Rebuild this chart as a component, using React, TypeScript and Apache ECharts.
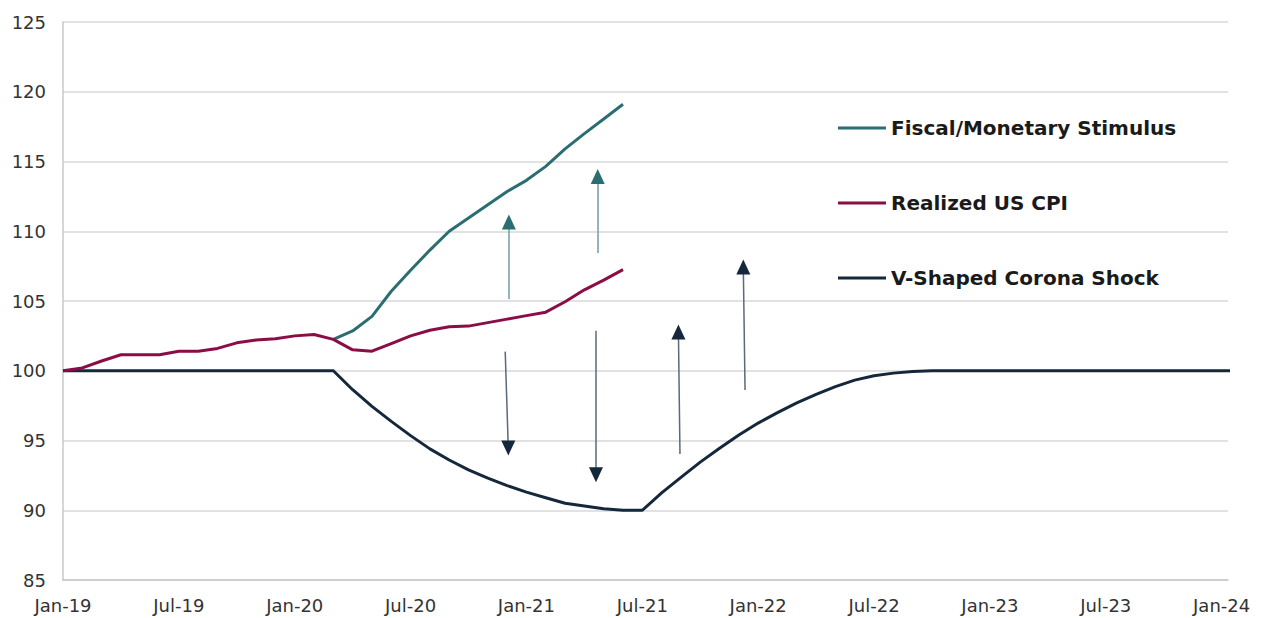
import React, { useEffect, useRef } from "react";
import * as echarts from "echarts";

// X tick labels (every 6 months, index 0 = Jan-19)
const xTickLabels = ["Jan-19", "Jul-19", "Jan-20", "Jul-20", "Jan-21", "Jul-21", "Jan-22", "Jul-22", "Jan-23", "Jul-23", "Jan-24"];

const seriesNames = ["Fiscal/Monetary Stimulus", "Realized US CPI", "V-Shaped Corona Shock"];

// Realized US CPI, monthly from Jan-19 (index 0) to Jun-21 (index 29)
const cpiValues = [
  100, 100.2, 100.7, 101.15, 101.15, 101.15, 101.4, 101.4, 101.6, 102.0,
  102.2, 102.3, 102.5, 102.6, 102.25, 101.5, 101.4, 101.95, 102.5, 102.9,
  103.15, 103.2, 103.45, 103.7, 103.95, 104.2, 104.95, 105.8, 106.5, 107.25,
];

// Fiscal/Monetary Stimulus, from Mar-20 (index 14) to Jun-21 (index 29)
const stimulusStart = 14;
const stimulusValues = [
  102.25, 102.85, 103.9, 105.7, 107.2, 108.65, 110.0, 110.95, 111.9, 112.85,
  113.65, 114.65, 115.9, 117.0, 118.05, 119.1,
];

// V-Shaped Corona Shock, monthly from Jan-19 (index 0) to Feb-24 (index 61)
const shockValues = [
  100, 100, 100, 100, 100, 100, 100, 100, 100, 100,
  100, 100, 100, 100, 100, 98.64, 97.45, 96.37, 95.35, 94.4,
  93.6, 92.9, 92.3, 91.77, 91.3, 90.9, 90.5, 90.3, 90.1, 90.0,
  90.0, 91.24, 92.36, 93.45, 94.45, 95.4, 96.25, 97.0, 97.7, 98.3,
  98.86, 99.33, 99.64, 99.83, 99.95, 100, 100, 100, 100, 100,
  100, 100, 100, 100, 100, 100, 100, 100, 100, 100,
  100, 100,
];

// Annotation arrows: [monthFrom, valueFrom, monthTip, valueTip, kind]
const arrows: [number, number, number, number, "teal" | "dark"][] = [
  [23.09, 105.14, 23.09, 111.17, "teal"],
  [27.69, 108.44, 27.69, 114.43, "teal"],
  [22.9, 101.37, 23.06, 93.96, "dark"],
  [27.6, 102.87, 27.6, 92.05, "dark"],
  [31.95, 94.03, 31.87, 103.28, "dark"],
  [35.32, 98.62, 35.23, 107.94, "dark"],
];

const xMax = 60.33;

const COLORS = {
  teal: "#2b6e72",
  cpi: "#8a0d45",
  dark: "#15283b",
  tealShaft: "#6e9fa2",
  darkShaft: "#5b6a79",
};

const AXIS_FONT = "'DejaVu Sans', 'Noto Sans', sans-serif";
const LEGEND_FONT = "'DejaVu Sans', 'Noto Sans', sans-serif";

export default function App() {
  const ref = useRef<HTMLDivElement>(null);

  useEffect(() => {
    document.body.style.margin = "0";
    if (!ref.current) return;
    const chart = echarts.init(ref.current, undefined, { renderer: "svg" });

    const headHalf = 0.5; // half arrow-head height in value units
    const markLineData = arrows.map(([x1, y1, x2, y2, kind]) => {
      const dir = y2 > y1 ? 1 : -1;
      return [
        {
          coord: [x1, y1],
          lineStyle: { color: kind === "teal" ? COLORS.tealShaft : COLORS.darkShaft, width: 1.5, type: "solid" },
        },
        { coord: [x2, y2 - dir * headHalf] },
      ];
    });
    const markPointData = arrows.map(([x1, y1, x2, y2, kind]) => {
      const dir = y2 > y1 ? 1 : -1;
      return {
        coord: [x2, y2 - dir * headHalf],
        symbol: "triangle",
        symbolSize: [14, 15],
        symbolRotate: dir > 0 ? 0 : 180,
        itemStyle: { color: kind === "teal" ? COLORS.teal : COLORS.dark },
        label: { show: false },
      };
    });

    const option: any = {
      animation: false,
      backgroundColor: "#ffffff",
      grid: { left: 63, right: 43, top: 22, bottom: 38, containLabel: false },
      legend: {
        show: true,
        orient: "vertical",
        left: 833,
        top: 113,
        icon: "rect",
        itemWidth: 48,
        itemHeight: 3,
        itemGap: 55,
        selectedMode: false,
        data: seriesNames,
        textStyle: {
          fontFamily: LEGEND_FONT,
          fontWeight: "bold",
          fontSize: 20,
          lineHeight: 20,
          color: "#1a1a1a",
        },
      },
      xAxis: {
        type: "value",
        min: 0,
        max: xMax,
        interval: 6,
        axisLine: { show: true, lineStyle: { color: "#c8c8c8", width: 1.5 } },
        axisTick: { show: false },
        splitLine: { show: false },
        axisLabel: {
          fontFamily: AXIS_FONT,
          fontSize: 18,
          color: "#333333",
          margin: 16,
          showMaxLabel: false,
          formatter: (v: number) => {
            const i = v / 6;
            if (Math.abs(i - Math.round(i)) > 1e-6) return "";
            return xTickLabels[Math.round(i)] ?? "";
          },
        },
      },
      yAxis: {
        type: "value",
        min: 85,
        max: 125,
        interval: 5,
        axisLine: { show: true, lineStyle: { color: "#c8c8c8", width: 1.5 } },
        axisTick: { show: false },
        splitLine: { show: true, lineStyle: { color: "#d9d9d9", width: 1.5 } },
        axisLabel: {
          fontFamily: AXIS_FONT,
          fontSize: 18,
          color: "#333333",
          margin: 17,
        },
      },
      series: [
        {
          name: seriesNames[2],
          type: "line",
          data: shockValues.map((v, i) => [i, v]),
          showSymbol: false,
          symbol: "none",
          clip: true,
          color: COLORS.dark,
          lineStyle: { color: COLORS.dark, width: 3 },
          z: 2,
          silent: true,
          markLine: {
            silent: true,
            symbol: ["none", "none"],
            label: { show: false },
            emphasis: { disabled: true },
            data: markLineData,
          },
          markPoint: {
            silent: true,
            label: { show: false },
            data: markPointData,
          },
        },
        {
          name: seriesNames[0],
          type: "line",
          data: stimulusValues.map((v, i) => [i + stimulusStart, v]),
          showSymbol: false,
          symbol: "none",
          color: COLORS.teal,
          lineStyle: { color: COLORS.teal, width: 3 },
          z: 3,
          silent: true,
        },
        {
          name: seriesNames[1],
          type: "line",
          data: cpiValues.map((v, i) => [i, v]),
          showSymbol: false,
          symbol: "none",
          color: COLORS.cpi,
          lineStyle: { color: COLORS.cpi, width: 3 },
          z: 4,
          silent: true,
        },
      ],
    };

    chart.setOption(option);
    return () => {
      chart.dispose();
    };
  }, []);

  return <div ref={ref} style={{ width: 1271, height: 618 }} />;
}
